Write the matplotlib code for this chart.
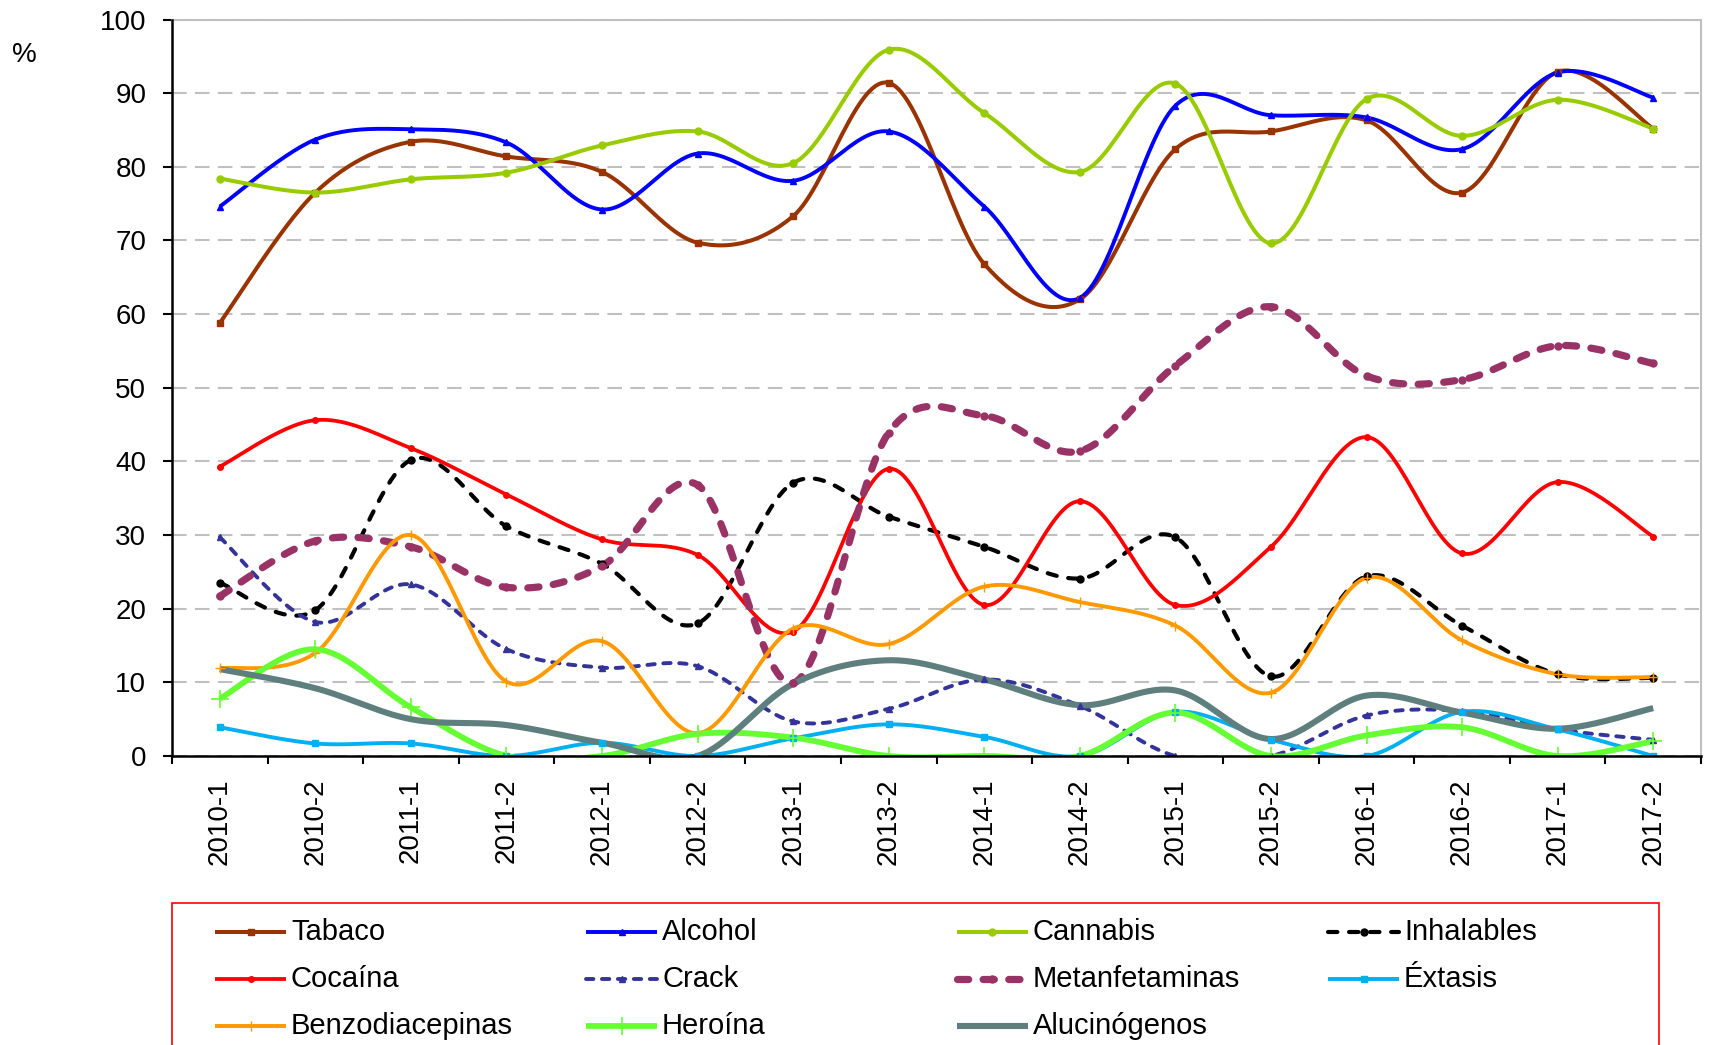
import numpy as np
import matplotlib.pyplot as plt
from matplotlib.lines import Line2D
from matplotlib.patches import Rectangle

plt.rcParams['font.family'] = ['Liberation Sans', 'DejaVu Sans']

periods = ['2010-1', '2010-2', '2011-1', '2011-2', '2012-1', '2012-2', '2013-1', '2013-2',
           '2014-1', '2014-2', '2015-1', '2015-2', '2016-1', '2016-2', '2017-1', '2017-2']

tabaco = [58.8, 76.5, 83.4, 81.4, 79.3, 69.7, 73.3, 91.4, 66.8, 62.0, 82.4, 84.8, 86.3, 76.5, 92.9, 85.2]
alcohol = [74.6, 83.7, 85.1, 83.3, 74.2, 81.8, 78.1, 84.8, 74.6, 62.2, 88.3, 87.0, 86.7, 82.4, 92.8, 89.4]
cannabis = [78.4, 76.5, 78.3, 79.2, 82.9, 84.8, 80.5, 95.9, 87.3, 79.3, 91.3, 69.6, 89.2, 84.2, 89.1, 85.2]
inhalables = [23.5, 19.8, 40.2, 31.2, 26.1, 18.0, 37.1, 32.5, 28.4, 24.1, 29.7, 10.8, 24.4, 17.7, 11.1, 10.6]
cocaina = [39.3, 45.6, 41.8, 35.5, 29.4, 27.3, 16.9, 39.0, 20.5, 34.6, 20.5, 28.4, 43.3, 27.5, 37.2, 29.8]
crack = [29.7, 18.2, 23.3, 14.5, 12.0, 12.2, 4.7, 6.4, 10.4, 6.8, 0.0, 0.0, 5.5, 6.1, 3.6, 2.2]
metanfetaminas = [21.7, 29.2, 28.4, 22.9, 25.8, 36.8, 9.9, 43.9, 46.2, 41.4, 53.0, 61.0, 51.6, 51.1, 55.7, 53.3]
extasis = [3.9, 1.7, 1.7, 0.0, 1.8, 0.0, 2.4, 4.3, 2.6, 0.0, 6.0, 2.2, 0.0, 6.0, 3.6, 0.0]
benzodiacepinas = [11.9, 14.0, 30.0, 10.1, 15.6, 3.1, 17.3, 15.2, 23.0, 20.9, 17.7, 8.6, 24.2, 15.7, 11.1, 10.7]
heroina = [7.8, 14.5, 6.6, 0.0, 0.0, 3.0, 2.5, 0.0, 0.0, 0.0, 5.9, 0.0, 2.8, 3.9, 0.0, 2.0]
alucinogenos = [11.8, 9.2, 5.0, 4.2, 1.8, 0.0, 9.8, 13.0, 10.4, 6.9, 8.9, 2.3, 8.2, 5.9, 3.7, 6.5]

names = ['Tabaco', 'Alcohol', 'Cannabis', 'Inhalables', 'Cocaína', 'Crack', 'Metanfetaminas',
         'Éxtasis', 'Benzodiacepinas', 'Heroína', 'Alucinógenos']
series = [tabaco, alcohol, cannabis, inhalables, cocaina, crack, metanfetaminas,
          extasis, benzodiacepinas, heroina, alucinogenos]

# style per series (dashes are in units of line width, round caps)
styles = [
    dict(color='#993300', lw=2.9, dashes=None, marker='s', ms=5, mew=1),
    dict(color='#0000FF', lw=2.8, dashes=None, marker='^', ms=5, mew=1),
    dict(color='#99CC00', lw=2.9, dashes=None, marker='o', ms=5, mew=1),
    dict(color='#000000', lw=3.0, dashes=(2.25, 2.8), marker='o', ms=5, mew=1),
    dict(color='#FF0000', lw=2.7, dashes=None, marker='o', ms=4, mew=1),
    dict(color='#333399', lw=2.8, dashes=(1.9, 2.2), marker='^', ms=5, mew=1),
    dict(color='#993366', lw=5.2, dashes=(1.55, 2.0), marker='o', ms=5, mew=1),
    dict(color='#00B0F0', lw=2.8, dashes=None, marker='s', ms=5, mew=1),
    dict(color='#FF9900', lw=2.8, dashes=None, marker='+', ms=7, mew=1),
    dict(color='#66FF33', lw=4.2, dashes=None, marker='+', ms=13, mew=1.2),
    dict(color='#5F7F7F', lw=4.4, dashes=None, marker=None, ms=0, mew=1),
]


def smooth(y, n=30):
    # Catmull-Rom style bezier, like Excel's smoothed lines
    y = np.asarray(y, float)
    x = np.arange(len(y), dtype=float)
    px = np.concatenate([[x[0]], x, [x[-1]]])
    py = np.concatenate([[y[0]], y, [y[-1]]])
    xs, ys = [], []
    t = np.linspace(0, 1, n)
    for i in range(1, len(px) - 2):
        p0x, p0y = px[i], py[i]
        p3x, p3y = px[i + 1], py[i + 1]
        p1x = p0x + (px[i + 1] - px[i - 1]) / 6
        p1y = p0y + (py[i + 1] - py[i - 1]) / 6
        p2x = p3x - (px[i + 2] - px[i]) / 6
        p2y = p3y - (py[i + 2] - py[i]) / 6
        bx = (1 - t) ** 3 * p0x + 3 * (1 - t) ** 2 * t * p1x + 3 * (1 - t) * t ** 2 * p2x + t ** 3 * p3x
        by = (1 - t) ** 3 * p0y + 3 * (1 - t) ** 2 * t * p1y + 3 * (1 - t) * t ** 2 * p2y + t ** 3 * p3y
        xs.append(bx)
        ys.append(by)
    return np.concatenate(xs), np.concatenate(ys)


def style_line(ln, st):
    if st['dashes']:
        ln.set_dashes(st['dashes'])
        ln.set_dash_capstyle('round')


W, H = 1709, 1045
fig = plt.figure(figsize=(W / 100, H / 100), dpi=100)
ax = fig.add_axes([172 / W, 1 - 756 / H, (1701 - 172) / W, (756 - 19.5) / H])

x = np.arange(len(periods))
for vals, st in zip(series, styles):
    sx, sy = smooth(vals)
    ln, = ax.plot(sx, sy, color=st['color'], lw=st['lw'], solid_capstyle='butt', zorder=3)
    style_line(ln, st)
    if st['marker']:
        ax.plot(x, vals, ls='none', marker=st['marker'], ms=st['ms'], color=st['color'],
                mec=st['color'], mew=st['mew'], zorder=4)

ax.set_xlim(-0.5, len(periods) - 0.5)
ax.set_ylim(0, 100)
ax.set_yticks(np.arange(0, 101, 10))
ax.set_xticks(x)
ax.set_xticklabels(periods, rotation=90)
ax.set_xticks(np.arange(-0.5, len(periods), 1), minor=True)
ax.tick_params(axis='x', which='major', length=0, pad=16, labelsize=20)
ax.tick_params(axis='x', which='minor', length=6, width=1.5, direction='out')
ax.tick_params(axis='y', length=6.5, width=1.5, pad=12, labelsize=20)

ax.grid(axis='y', color='#C0C0C0', lw=1.5, dashes=(7, 4))
ax.set_axisbelow(True)
for s in ['left', 'bottom']:
    ax.spines[s].set_linewidth(1.8)
    ax.spines[s].set_zorder(5)
for s in ['top', 'right']:
    ax.spines[s].set_color('#C0C0C0')
    ax.spines[s].set_linewidth(1.5)

fig.text(24 / W, 1 - 55 / H, '%', fontsize=20, ha='center', va='center')

# legend box
fig.add_artist(Rectangle((172 / W, -0.01), (1659 - 172) / W, 0.01 + 1 - 903 / H,
                         transform=fig.transFigure, fill=False, edgecolor='#FF0000', lw=1.2))
order = [[0, 1, 2, 3], [4, 5, 6, 7], [8, 9, 10]]
row_y = [932, 979, 1026]
for r, row in enumerate(order):
    for c, idx in enumerate(row):
        st = styles[idx]
        x0 = 215 + 371 * c
        x1 = x0 + 71
        yy = 1 - row_y[r] / H
        hl = Line2D([x0 / W, (x0 + x1) / 2 / W, x1 / W], [yy, yy, yy], transform=fig.transFigure,
                    color=st['color'], lw=st['lw'], solid_capstyle='butt')
        style_line(hl, st)
        if st['marker']:
            hl.set_marker(st['marker'])
            hl.set_markevery([1])
            hl.set_markersize(st['ms'])
            hl.set_markeredgewidth(st['mew'])
        fig.add_artist(hl)
        fig.text((x1 + 5) / W, yy, names[idx], fontsize=21, ha='left', va='center')

fig.savefig('out.png', dpi=100)
